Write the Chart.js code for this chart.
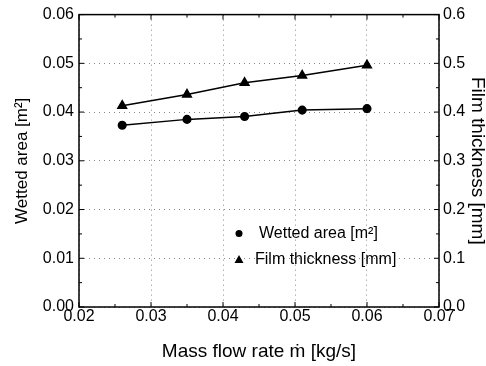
<!DOCTYPE html>
<html>
<head>
<meta charset="utf-8">
<script src="https://cdn.jsdelivr.net/npm/chart.js@4/dist/chart.umd.min.js"></script>
<style>
html,body{margin:0;padding:0;background:#fff;}
#wrap{width:486px;height:366px;}
</style>
</head>
<body>
<div id="wrap"><canvas id="c" width="486" height="366"></canvas></div>
<script>
// ---- data ----
const massFlow = [0.026, 0.035, 0.043, 0.051, 0.060];            // kg/s
const wettedArea = [0.0373, 0.0385, 0.0391, 0.0404, 0.0407];     // m^2
const filmThickness = [0.413, 0.436, 0.460, 0.475, 0.496];       // mm
const seriesLabels = ['Wetted area [m\u00B2]', 'Film thickness [mm]'];
const xTickValues = [0.02, 0.03, 0.04, 0.05, 0.06, 0.07];
const yTickValues = [0.00, 0.01, 0.02, 0.03, 0.04, 0.05, 0.06];
const y2TickValues = [0.0, 0.1, 0.2, 0.3, 0.4, 0.5, 0.6];
const xTitle = 'Mass flow rate \u1E41 [kg/s]';
const yTitle = 'Wetted area [m\u00B2]';
const y2Title = 'Film thickness [mm]';

const FONT = "'Liberation Sans', Arial, sans-serif";

const frameTicks = {
  id: 'frameTicks',
  afterDatasetsDraw(chart) {
    const {ctx, chartArea: a, scales} = chart;
    ctx.save();
    ctx.strokeStyle = '#000';
    ctx.lineWidth = 1;
    const X = scales.x, Y = scales.y, Y2 = scales.y2;
    const MAJ = 5, MIN = 3;
    ctx.beginPath();
    for (let i = 0; i < xTickValues.length; i++) {
      const px = X.getPixelForValue(xTickValues[i]);
      ctx.moveTo(px, a.bottom); ctx.lineTo(px, a.bottom - MAJ);
      ctx.moveTo(px, a.top); ctx.lineTo(px, a.top + MAJ);
      if (i < xTickValues.length - 1) {
        const pm = X.getPixelForValue((xTickValues[i] + xTickValues[i + 1]) / 2);
        ctx.moveTo(pm, a.bottom); ctx.lineTo(pm, a.bottom - MIN);
        ctx.moveTo(pm, a.top); ctx.lineTo(pm, a.top + MIN);
      }
    }
    for (let i = 0; i < yTickValues.length; i++) {
      const py = Y.getPixelForValue(yTickValues[i]);
      ctx.moveTo(a.left, py); ctx.lineTo(a.left + MAJ, py);
      if (i < yTickValues.length - 1) {
        const pm = Y.getPixelForValue((yTickValues[i] + yTickValues[i + 1]) / 2);
        ctx.moveTo(a.left, pm); ctx.lineTo(a.left + MIN, pm);
      }
    }
    for (let i = 0; i < y2TickValues.length; i++) {
      const py = Y2.getPixelForValue(y2TickValues[i]);
      ctx.moveTo(a.right, py); ctx.lineTo(a.right - MAJ, py);
      if (i < y2TickValues.length - 1) {
        const pm = Y2.getPixelForValue((y2TickValues[i] + y2TickValues[i + 1]) / 2);
        ctx.moveTo(a.right, pm); ctx.lineTo(a.right - MIN, pm);
      }
    }
    ctx.stroke();
    ctx.lineWidth = 1.5;
    ctx.strokeRect(a.left, a.top, a.right - a.left, a.bottom - a.top);

    // legend inside plot
    const lx = a.left + 160, ly = a.top + 219, gap = 26;
    ctx.fillStyle = '#000';
    ctx.beginPath(); ctx.arc(lx, ly, 3.5, 0, Math.PI * 2); ctx.fill();
    const ty = ly + gap;
    ctx.beginPath();
    ctx.moveTo(lx, ty - 4.5); ctx.lineTo(lx + 4.5, ty + 3.5); ctx.lineTo(lx - 4.5, ty + 3.5);
    ctx.closePath(); ctx.fill();
    ctx.font = '16px ' + FONT;
    ctx.textBaseline = 'middle';
    ctx.textAlign = 'left';
    ctx.fillText(chart.data.datasets[0].label, lx + 20, ly);
    ctx.fillText(chart.data.datasets[1].label, lx + 16, ty);
    ctx.restore();
  }
};

new Chart(document.getElementById('c'), {
  type: 'scatter',
  data: {
    datasets: [
      {
        label: seriesLabels[0],
        data: massFlow.map((x, i) => ({x: x, y: wettedArea[i]})),
        yAxisID: 'y',
        showLine: true,
        borderColor: '#000',
        backgroundColor: '#000',
        borderWidth: 1.5,
        pointStyle: 'circle',
        pointRadius: 3.8,
        pointHoverRadius: 3.8
      },
      {
        label: seriesLabels[1],
        data: massFlow.map((x, i) => ({x: x, y: filmThickness[i]})),
        yAxisID: 'y2',
        showLine: true,
        borderColor: '#000',
        backgroundColor: '#000',
        borderWidth: 1.5,
        pointStyle: 'triangle',
        pointRadius: 5,
        pointHoverRadius: 5
      }
    ]
  },
  options: {
    responsive: false,
    animation: false,
    layout: {padding: {top: 14, left: 0, right: 0, bottom: 0}},
    plugins: {legend: {display: false}, tooltip: {enabled: false}},
    scales: {
      x: {
        type: 'linear', position: 'bottom',
        min: xTickValues[0], max: xTickValues[xTickValues.length - 1],
        afterBuildTicks: s => { s.ticks = xTickValues.map(v => ({value: v})); },
        afterFit: s => { s.height = 59; },
        ticks: {color: '#000', padding: 0, font: {family: FONT, size: 16},
          callback: v => Number(v).toFixed(2), maxRotation: 0, autoSkip: false},
        grid: {display: true, drawTicks: false, color: '#888', lineWidth: 1},
        border: {display: false, dash: [1, 4]},
        title: {display: true, text: xTitle, color: '#000',
          font: {family: FONT, size: 19}, padding: {top: 4, bottom: 3}}
      },
      y: {
        type: 'linear', position: 'left',
        min: yTickValues[0], max: yTickValues[yTickValues.length - 1],
        afterBuildTicks: s => { s.ticks = yTickValues.map(v => ({value: v})); },
        afterFit: s => { s.width = 79; },
        ticks: {color: '#000', padding: 5, font: {family: FONT, size: 16},
          callback: v => Number(v).toFixed(2), autoSkip: false},
        grid: {display: true, drawTicks: false, color: '#888', lineWidth: 1},
        border: {display: false, dash: [1, 4]},
        title: {display: true, text: yTitle, color: '#000',
          font: {family: FONT, size: 17}, padding: {top: 12, bottom: 0}}
      },
      y2: {
        type: 'linear', position: 'right',
        min: y2TickValues[0], max: y2TickValues[y2TickValues.length - 1],
        afterBuildTicks: s => { s.ticks = y2TickValues.map(v => ({value: v})); },
        afterFit: s => { s.width = 47; },
        ticks: {color: '#000', padding: 4, font: {family: FONT, size: 16},
          callback: v => Number(v).toFixed(1), autoSkip: false},
        grid: {display: false, drawTicks: false},
        border: {display: false},
        title: {display: true, text: y2Title, color: '#000',
          font: {family: FONT, size: 19}, padding: {top: -3, bottom: 0}}
      }
    }
  },
  plugins: [frameTicks]
});
</script>
</body>
</html>
